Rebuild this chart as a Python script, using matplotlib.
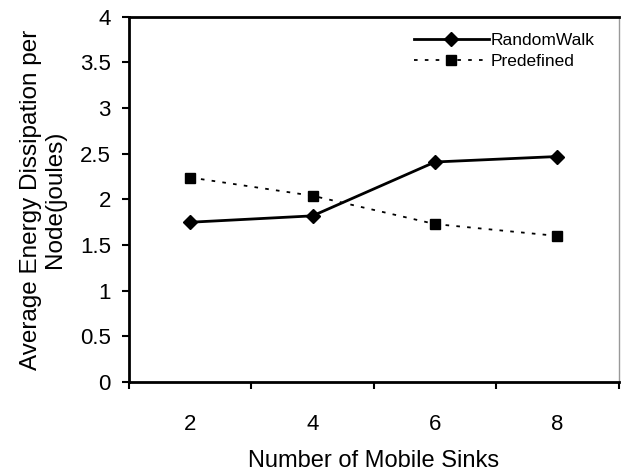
import numpy as np
import matplotlib.pyplot as plt

plt.rcParams['font.family'] = ['Liberation Sans', 'DejaVu Sans']

sinks = ['2', '4', '6', '8']
random_walk = [1.75, 1.82, 2.41, 2.47]
predefined = [2.24, 2.04, 1.73, 1.60]

fig = plt.figure(figsize=(6.21, 4.73), dpi=100)
ax = fig.add_axes([0.2077, 0.1924, 0.7885, 0.772])

x = np.arange(len(sinks))
ax.plot(x, random_walk, color='black', lw=2, marker='D', ms=7, label='RandomWalk')
ax.plot(x, predefined, color='black', lw=1.3, ls=(0, (2, 4)), marker='s', ms=7,
        label='Predefined')

ax.set_xlim(-0.5, len(sinks) - 0.5)
ax.set_ylim(0, 4)
ax.set_yticks(np.arange(0, 4.01, 0.5))
ax.set_yticklabels(['0', '0.5', '1', '1.5', '2', '2.5', '3', '3.5', '4'])

# category labels in the middle, tick marks between categories
ax.set_xticks(np.arange(-0.5, len(sinks)), labels=[])
ax.set_xticks(x, labels=sinks, minor=True)
ax.tick_params(axis='x', which='major', direction='out', length=5, width=1.5)
ax.tick_params(axis='x', which='minor', length=0, pad=23, labelsize=16)
ax.tick_params(axis='y', direction='out', length=5, width=1.5, pad=8, labelsize=16)

for s in ['left', 'bottom', 'top']:
    ax.spines[s].set_linewidth(2)
ax.spines['right'].set_color('#999999')
ax.spines['right'].set_linewidth(1)

ax.set_xlabel('Number of Mobile Sinks', fontsize=17, labelpad=11)
ax.set_ylabel('Average Energy Dissipation per\nNode(joules)', fontsize=17.5, labelpad=10,
              linespacing=1.1)

ax.legend(loc='upper right', bbox_to_anchor=(0.975, 0.99), frameon=False, fontsize=12.5,
          handlelength=4.3, handletextpad=0.1, labelspacing=0.35, borderaxespad=0.3)

plt.savefig('out.png', dpi=100)
